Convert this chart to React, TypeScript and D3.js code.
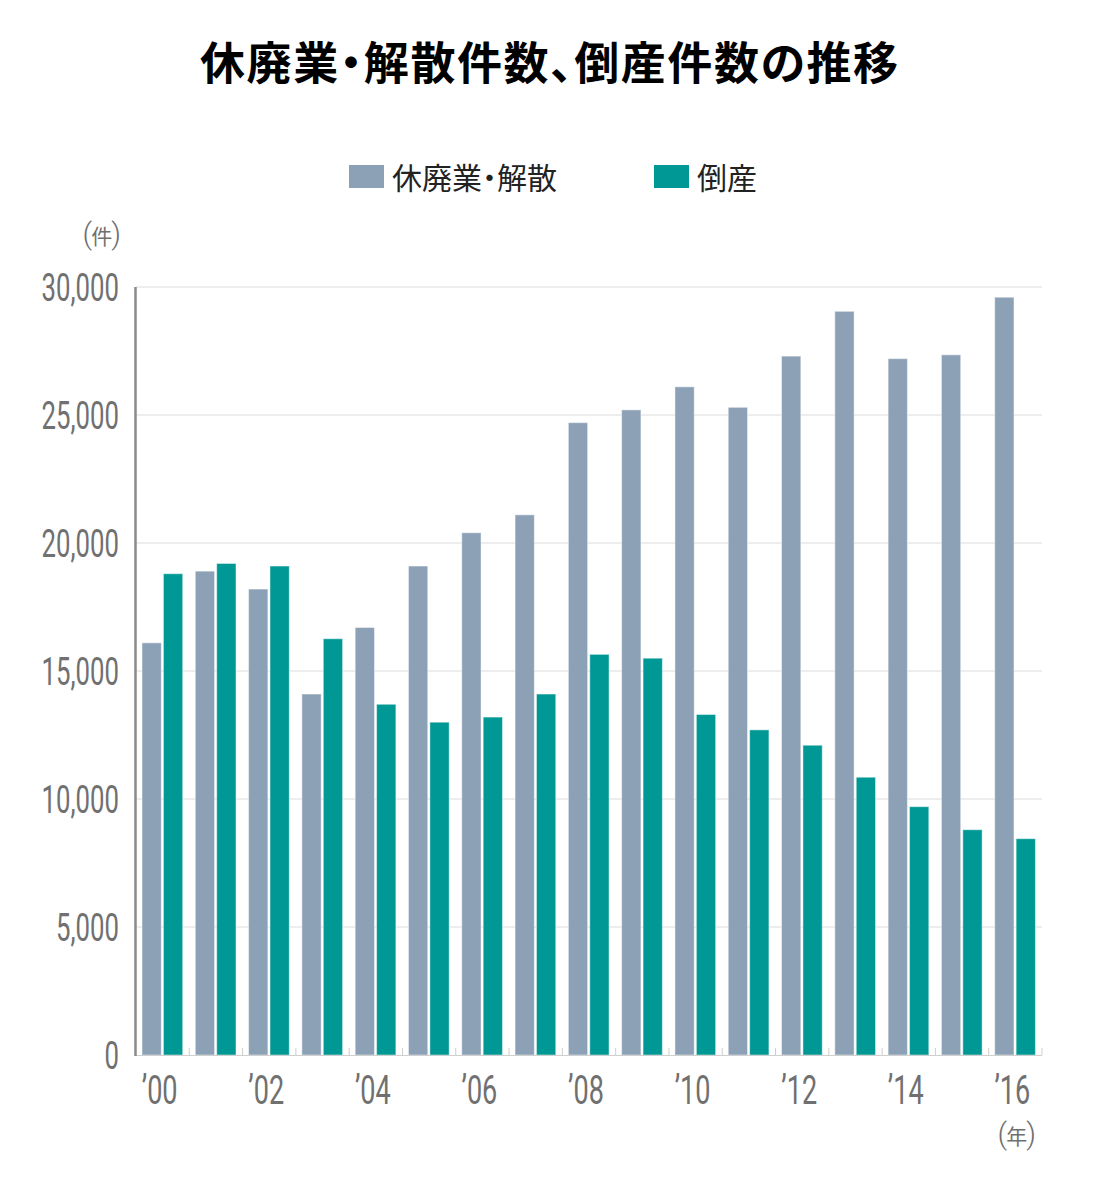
import React from "react";
import * as d3 from "d3";

// 年次（2000〜2016年）
const years = [
  2000, 2001, 2002, 2003, 2004, 2005, 2006, 2007, 2008,
  2009, 2010, 2011, 2012, 2013, 2014, 2015, 2016,
];

// 休廃業・解散件数
const closures = [
  16100, 18900, 18200, 14100, 16700, 19100, 20400, 21100, 24700,
  25200, 26100, 25300, 27300, 29050, 27200, 27350, 29600,
];

// 倒産件数
const bankruptcies = [
  18800, 19200, 19100, 16260, 13700, 13000, 13200, 14100, 15650,
  15500, 13300, 12700, 12100, 10850, 9700, 8800, 8450,
];

const seriesNames = ["休廃業・解散", "倒産"];
const seriesColors = ["#8ca1b5", "#009894"];
const yTicks = [0, 5000, 10000, 15000, 20000, 25000, 30000];
const labelYears = [2000, 2002, 2004, 2006, 2008, 2010, 2012, 2014, 2016];

const title = "休廃業・解散件数、倒産件数の推移";

const W = 1100;
const H = 1200;
const plot = { left: 136, right: 1042, top: 287, bottom: 1055 };

const numFont = "Roboto, 'Liberation Sans', sans-serif";
const jpFont = "'Noto Sans CJK JP', 'Noto Sans', sans-serif";
const axisGray = "#707070";
const palt = { fontFeatureSettings: "'palt'" } as React.CSSProperties;

// 括弧付きの単位ラベル
function UnitLabel({ x, y, text }: { x: number; y: number; text: string }) {
  return (
    <text x={x} y={y} textAnchor="end" fill={axisGray}>
      <tspan fontFamily={numFont} fontWeight={300} fontSize={30}>
        (
      </tspan>
      <tspan fontFamily={jpFont} fontSize={21} dx={-1}>
        {text}
      </tspan>
      <tspan fontFamily={numFont} fontWeight={300} fontSize={30} dx={-1}>
        )
      </tspan>
    </text>
  );
}

export default function App() {
  const y = d3.scaleLinear().domain([0, 30000]).range([plot.bottom, plot.top]);
  const x0 = d3
    .scaleBand<number>()
    .domain(years)
    .range([plot.left, plot.right])
    .padding(0);
  const x1 = d3
    .scaleBand<number>()
    .domain([0, 1])
    .range([6, x0.bandwidth() - 6.6])
    .paddingInner(0.1);

  const fmt = d3.format(",");
  const rows = years.map((yr, i) => ({ yr, vals: [closures[i], bankruptcies[i]] }));

  return (
    <svg
      width={W}
      height={H}
      viewBox={`0 0 ${W} ${H}`}
      style={{ position: "absolute", left: 0, top: 0, background: "#fff" }}
    >
      {/* タイトル */}
      <text
        x={200}
        y={80}
        textLength={698}
        lengthAdjust="spacing"
        fontFamily={jpFont}
        fontWeight={700}
        fontSize={45}
        fill="#000"
        style={palt}
      >
        {title}
      </text>

      {/* 凡例 */}
      {seriesNames.map((name, i) => {
        const lx = i === 0 ? 349 : 654;
        return (
          <g key={name}>
            <rect x={lx} y={165} width={35} height={23} fill={seriesColors[i]} />
            <text
              x={lx + 43}
              y={189}
              fontFamily={jpFont}
              fontSize={30}
              fill="#222"
              style={palt}
            >
              {name}
            </text>
          </g>
        );
      })}

      {/* 単位 */}
      <UnitLabel x={121} y={244} text="件" />
      <UnitLabel x={1036} y={1144} text="年" />

      {/* 目盛り線 */}
      {yTicks
        .filter((t) => t > 0)
        .map((t) => (
          <line
            key={`g${t}`}
            x1={plot.left}
            x2={plot.right}
            y1={y(t)}
            y2={y(t)}
            stroke="#dcdcdc"
            strokeWidth={1}
          />
        ))}

      {/* Y軸ラベル */}
      {yTicks.map((t) => (
        <g key={`yl${t}`} transform={`translate(119,${y(t)}) scale(0.66,1)`}>
          <text
            x={0}
            y={0}
            dy="0.36em"
            textAnchor="end"
            fontFamily={numFont}
            fontWeight={400}
            fontSize={39}
            fill={axisGray}
          >
            {fmt(t)}
          </text>
        </g>
      ))}

      {/* 棒 */}
      {rows.map((r) => (
        <g key={r.yr} transform={`translate(${x0(r.yr)},0)`}>
          {r.vals.map((v, k) => (
            <rect
              key={k}
              x={x1(k)}
              y={y(v)}
              width={x1.bandwidth()}
              height={y(0) - y(v)}
              fill={seriesColors[k]}
              stroke="rgba(255,255,255,0.45)"
              strokeWidth={1}
            />
          ))}
        </g>
      ))}

      {/* X軸 */}
      <line
        x1={plot.left}
        x2={plot.right}
        y1={plot.bottom + 0.5}
        y2={plot.bottom + 0.5}
        stroke="#cfcfcf"
        strokeWidth={1}
      />
      {years.map((yr) => {
        const bx = (x0(yr) as number) + x0.bandwidth();
        return (
          <line
            key={`t${yr}`}
            x1={bx}
            x2={bx}
            y1={plot.bottom - 7}
            y2={plot.bottom}
            stroke="#cfcfcf"
            strokeWidth={1}
          />
        );
      })}

      {/* Y軸 */}
      <line
        x1={135.5}
        x2={135.5}
        y1={plot.top}
        y2={plot.bottom + 1}
        stroke="#8a8a8a"
        strokeWidth={2.5}
      />

      {/* X軸ラベル */}
      {labelYears.map((yr) => {
        const cx = (x0(yr) as number) + x0.bandwidth() / 2 - 3;
        return (
          <g key={`xl${yr}`} transform={`translate(${cx},1104) scale(0.66,1)`}>
            <text
              x={0}
              y={0}
              textAnchor="middle"
              fontFamily={numFont}
              fontWeight={400}
              fontSize={41}
              fill={axisGray}
            >
              {"’" + String(yr).slice(2)}
            </text>
          </g>
        );
      })}
    </svg>
  );
}
